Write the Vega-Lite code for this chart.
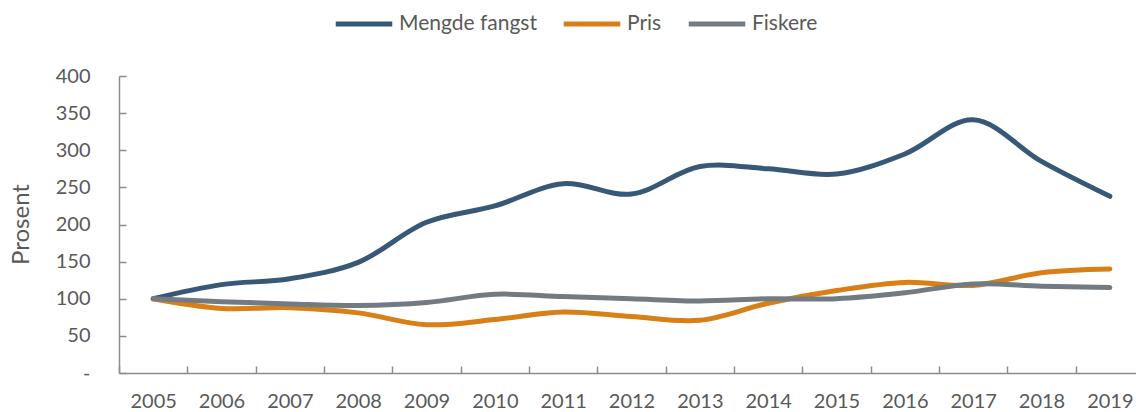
{
  "$schema": "https://vega.github.io/schema/vega-lite/v6.json",
  "autosize": "none",
  "width": 1017,
  "height": 297,
  "padding": {"left": 119, "top": 76, "right": 0, "bottom": 39},
  "background": "white",
  "config": {
    "view": {"stroke": null},
    "font": "Lato",
    "axis": {"labelFont": "Lato", "titleFont": "Lato", "labelColor": "#595959", "titleColor": "#595959", "labelFontSize": 20, "titleFontSize": 24, "titleFontWeight": "normal", "domainColor": "#8c8c8c", "tickColor": "#8c8c8c", "domainWidth": 1.5, "tickWidth": 1.5, "grid": false},
    "legend": {"labelFont": "Lato", "labelFontSize": 21, "labelColor": "#595959"}
  },
  "data": {
    "values": [
      {"year": "2005", "series": "Mengde fangst", "value": 100},
      {"year": "2006", "series": "Mengde fangst", "value": 119},
      {"year": "2007", "series": "Mengde fangst", "value": 127},
      {"year": "2008", "series": "Mengde fangst", "value": 149},
      {"year": "2009", "series": "Mengde fangst", "value": 203},
      {"year": "2010", "series": "Mengde fangst", "value": 225},
      {"year": "2011", "series": "Mengde fangst", "value": 255},
      {"year": "2012", "series": "Mengde fangst", "value": 241},
      {"year": "2013", "series": "Mengde fangst", "value": 278},
      {"year": "2014", "series": "Mengde fangst", "value": 275},
      {"year": "2015", "series": "Mengde fangst", "value": 268},
      {"year": "2016", "series": "Mengde fangst", "value": 295},
      {"year": "2017", "series": "Mengde fangst", "value": 341},
      {"year": "2018", "series": "Mengde fangst", "value": 285},
      {"year": "2019", "series": "Mengde fangst", "value": 238},
      {"year": "2005", "series": "Pris", "value": 100},
      {"year": "2006", "series": "Pris", "value": 87},
      {"year": "2007", "series": "Pris", "value": 88},
      {"year": "2008", "series": "Pris", "value": 81},
      {"year": "2009", "series": "Pris", "value": 65},
      {"year": "2010", "series": "Pris", "value": 72},
      {"year": "2011", "series": "Pris", "value": 82},
      {"year": "2012", "series": "Pris", "value": 76},
      {"year": "2013", "series": "Pris", "value": 71},
      {"year": "2014", "series": "Pris", "value": 94},
      {"year": "2015", "series": "Pris", "value": 111},
      {"year": "2016", "series": "Pris", "value": 122},
      {"year": "2017", "series": "Pris", "value": 118},
      {"year": "2018", "series": "Pris", "value": 135},
      {"year": "2019", "series": "Pris", "value": 140},
      {"year": "2005", "series": "Fiskere", "value": 100},
      {"year": "2006", "series": "Fiskere", "value": 96},
      {"year": "2007", "series": "Fiskere", "value": 93},
      {"year": "2008", "series": "Fiskere", "value": 91},
      {"year": "2009", "series": "Fiskere", "value": 95},
      {"year": "2010", "series": "Fiskere", "value": 106},
      {"year": "2011", "series": "Fiskere", "value": 103},
      {"year": "2012", "series": "Fiskere", "value": 100},
      {"year": "2013", "series": "Fiskere", "value": 97},
      {"year": "2014", "series": "Fiskere", "value": 100},
      {"year": "2015", "series": "Fiskere", "value": 100},
      {"year": "2016", "series": "Fiskere", "value": 108},
      {"year": "2017", "series": "Fiskere", "value": 120},
      {"year": "2018", "series": "Fiskere", "value": 117},
      {"year": "2019", "series": "Fiskere", "value": 115}
    ]
  },
  "mark": {"type": "line", "interpolate": "catmull-rom", "strokeWidth": 5, "strokeCap": "round"},
  "encoding": {
    "x": {
      "field": "year", "type": "ordinal", "title": null,
      "scale": {"type": "band", "paddingInner": 0, "paddingOuter": 0, "range": [0, 1025]},
      "axis": {"labelAngle": 0, "tickBand": "extent", "tickSize": -7, "labelPadding": 25}
    },
    "y": {
      "field": "value", "type": "quantitative", "title": "Prosent",
      "scale": {"domain": [0, 400], "nice": false},
      "axis": {"values": [0, 50, 100, 150, 200, 250, 300, 350, 400], "tickSize": -7, "labelPadding": 36, "labelExpr": "datum.value == 0 ? '-' : datum.label", "titleX": -98, "titleY": 148, "titleBaseline": "middle", "titleAngle": -90}
    },
    "color": {
      "field": "series", "type": "nominal",
      "scale": {"domain": ["Mengde fangst", "Pris", "Fiskere"], "range": ["#375877", "#d97f17", "#737b82"]},
      "legend": {"title": null, "orient": "none", "direction": "horizontal", "legendX": 214, "legendY": -83, "symbolType": "stroke", "symbolSize": 3200, "symbolStrokeWidth": 5, "labelOffset": 4, "columnPadding": 16}
    }
  }
}
